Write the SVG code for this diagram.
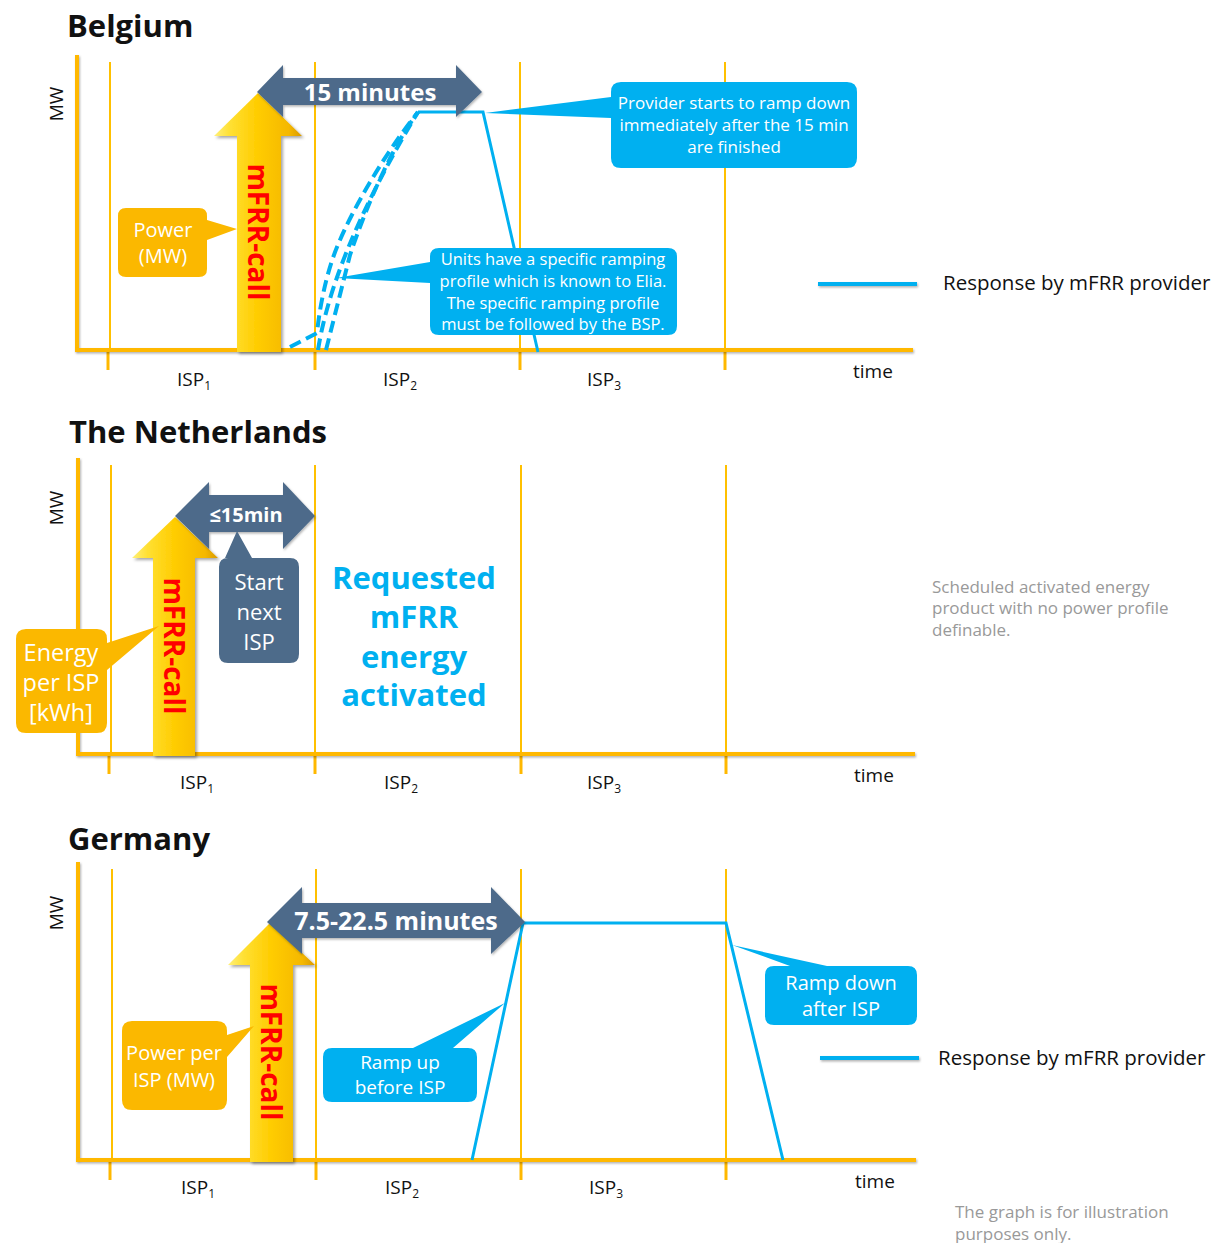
<svg xmlns="http://www.w3.org/2000/svg" width="1220" height="1243" viewBox="0 0 1220 1243">
<defs>
  <linearGradient id="yel" x1="0" y1="0" x2="1" y2="0">
    <stop offset="0" stop-color="#FFF07A"/>
    <stop offset="0.18" stop-color="#FFE033"/>
    <stop offset="0.5" stop-color="#FFCC00"/>
    <stop offset="0.85" stop-color="#F5B800"/>
    <stop offset="1" stop-color="#D99A00"/>
  </linearGradient>
  <filter id="sh" x="-20%" y="-20%" width="140%" height="140%">
    <feDropShadow dx="2" dy="2" stdDeviation="1.5" flood-color="#000" flood-opacity="0.35"/>
  </filter>
  <filter id="sh2" filterUnits="userSpaceOnUse" x="0" y="0" width="1220" height="1243">
    <feDropShadow dx="1" dy="1.5" stdDeviation="1" flood-color="#000" flood-opacity="0.3"/>
  </filter>
</defs>
<style>
  .axis{stroke:#FFB800;stroke-width:4;fill:none;filter:url(#sh2)}
  .grid{stroke:#FFC000;stroke-width:2;fill:none}
  .tick{stroke:#FFB800;stroke-width:3;fill:none}
  .resp{stroke:#00B0F0;stroke-width:3;fill:none;stroke-linejoin:miter}
  .dash{stroke:#00B0F0;stroke-width:4;fill:none;stroke-dasharray:12 6}
  .legend{stroke:#00B0F0;stroke-width:4;fill:none;filter:url(#sh2)}
  .yarrow{fill:url(#yel);filter:url(#sh)}
  .darrow{fill:#4D6B8A;filter:url(#sh2)}
  .blue{fill:#00B0F0}
  .orange{fill:#FBB800}
  .slate{fill:#4D6B8A}
  .title{font-family:"Open Sans","Noto Sans",sans-serif;font-weight:bold;font-size:31px;fill:#111}
  .lbl{font-family:"Open Sans","Noto Sans",sans-serif;font-size:19px;fill:#111}
  .leg{font-family:"Open Sans","Noto Sans",sans-serif;font-size:20.5px;fill:#111}
  .w{font-family:"Open Sans","Noto Sans",sans-serif;fill:#fff;text-anchor:middle}
  .wb{font-family:"Open Sans","Noto Sans",sans-serif;fill:#fff;font-weight:bold;text-anchor:middle}
  .call{font-family:"Open Sans","Noto Sans",sans-serif;font-weight:bold;font-size:28px;fill:#FF0000;text-anchor:middle}
  .gray{font-family:"Open Sans","Noto Sans",sans-serif;font-size:17px;fill:#999}
  .big{font-family:"Open Sans","Noto Sans",sans-serif;font-weight:bold;font-size:31px;fill:#00B0F0;text-anchor:middle}
</style>

<!-- ================= BELGIUM ================= -->
<g id="belgium-axes">
  <text class="title" x="67" y="37">Belgium</text>
  <line class="grid" x1="110" y1="62" x2="110" y2="350"/>
  <line class="grid" x1="315" y1="62" x2="315" y2="350"/>
  <line class="grid" x1="520" y1="62" x2="520" y2="350"/>
  <line class="grid" x1="725" y1="62" x2="725" y2="350"/>
  <line class="tick" x1="108" y1="350" x2="108" y2="370"/>
  <line class="tick" x1="315" y1="350" x2="315" y2="370"/>
  <line class="tick" x1="520" y1="350" x2="520" y2="370"/>
  <line class="tick" x1="725" y1="350" x2="725" y2="370"/>
  <line class="axis" x1="77" y1="55" x2="77" y2="350"/>
  <line class="axis" x1="75" y1="350" x2="913" y2="350"/>
  <text class="lbl" transform="translate(63,104) rotate(-90)" text-anchor="middle">MW</text>
  <text class="lbl" x="177" y="386">ISP<tspan font-size="12" dy="4">1</tspan></text>
  <text class="lbl" x="383" y="386">ISP<tspan font-size="12" dy="4">2</tspan></text>
  <text class="lbl" x="587" y="386">ISP<tspan font-size="12" dy="4">3</tspan></text>
  <text class="lbl" x="853" y="378">time</text>
</g>
<g id="belgium-response">
  <path class="dash" d="M290,347 L317,333 C321,295 330,262 340,240 C352,212 380,160 418,112"/>
  <path class="dash" d="M318,350 C326,300 350,225 418,112"/>
  <path class="dash" d="M326,350 L350,255 C365,210 390,150 418,112"/>
  <path class="resp" d="M418,112 L483,112 L538,352"/>
</g>
<g id="belgium-call">
  <polygon class="yarrow" points="237,352 237,136 214,136 258,93 302,136 281,136 281,352"/>
  <text class="call" transform="translate(258,232) rotate(90)" x="0" y="10">mFRR-call</text>
</g>
<g id="belgium-15min">
  <polygon class="darrow" points="257,92 283,65 283,78 456,78 456,65 482,92 456,117 456,105 283,105 283,117"/>
  <text class="wb" x="370" y="101" font-size="24">15 minutes</text>
</g>
<g id="belgium-power">
  <path class="orange" d="M126,208 H199 Q207,208 207,216 V220 L237,229 L207,240 V269 Q207,277 199,277 H126 Q118,277 118,269 V216 Q118,208 126,208 Z"/>
  <text class="w" x="163" y="237" font-size="20">Power</text>
  <text class="w" x="163" y="263" font-size="20">(MW)</text>
</g>
<g id="belgium-units">
  <path class="blue" d="M439,248 H668 Q677,248 677,257 V326 Q677,335 668,335 H439 Q430,335 430,326 V283 L336,278 L430,262 V257 Q430,248 439,248 Z"/>
  <text class="w" x="553" y="265" font-size="16.5">Units have a specific ramping</text>
  <text class="w" x="553" y="287" font-size="16.5">profile which is known to Elia.</text>
  <text class="w" x="553" y="309" font-size="16.5">The specific ramping profile</text>
  <text class="w" x="553" y="330" font-size="16.5">must be followed by the BSP.</text>
</g>
<g id="belgium-provider">
  <path class="blue" d="M621,82 H847 Q857,82 857,92 V158 Q857,168 847,168 H621 Q611,168 611,158 V118 L485,113 L611,97 V92 Q611,82 621,82 Z"/>
  <text class="w" x="734" y="109" font-size="17">Provider starts to ramp down</text>
  <text class="w" x="734" y="131" font-size="17">immediately after the 15 min</text>
  <text class="w" x="734" y="153" font-size="17">are finished</text>
</g>
<g id="belgium-legend">
  <line class="legend" x1="818" y1="284" x2="917" y2="284"/>
  <text class="leg" x="943" y="290">Response by mFRR provider</text>
</g>

<!-- ================= NETHERLANDS ================= -->
<g id="nl-axes">
  <text class="title" x="69" y="443">The Netherlands</text>
  <line class="grid" x1="111" y1="465" x2="111" y2="754"/>
  <line class="grid" x1="315" y1="465" x2="315" y2="754"/>
  <line class="grid" x1="521" y1="465" x2="521" y2="754"/>
  <line class="grid" x1="726" y1="465" x2="726" y2="754"/>
  <line class="tick" x1="109" y1="754" x2="109" y2="774"/>
  <line class="tick" x1="315" y1="754" x2="315" y2="774"/>
  <line class="tick" x1="521" y1="754" x2="521" y2="774"/>
  <line class="tick" x1="726" y1="754" x2="726" y2="774"/>
  <line class="axis" x1="78" y1="458" x2="78" y2="754"/>
  <line class="axis" x1="76" y1="754" x2="915" y2="754"/>
  <text class="lbl" transform="translate(63,508) rotate(-90)" text-anchor="middle">MW</text>
  <text class="lbl" x="180" y="789">ISP<tspan font-size="12" dy="4">1</tspan></text>
  <text class="lbl" x="384" y="789">ISP<tspan font-size="12" dy="4">2</tspan></text>
  <text class="lbl" x="587" y="789">ISP<tspan font-size="12" dy="4">3</tspan></text>
  <text class="lbl" x="854" y="782">time</text>
</g>
<g id="nl-call">
  <polygon class="yarrow" points="153,756 153,558 132,558 175,517 218,558 195,558 195,756"/>
  <text class="call" transform="translate(174,646) rotate(90)" x="0" y="10">mFRR-call</text>
</g>
<g id="nl-15min">
  <polygon class="darrow" points="175,516 209,482 209,495 283,495 283,482 315,516 283,549 283,532 209,532 209,549"/>
  <text class="wb" x="246" y="522" font-size="20">≤15min</text>
</g>
<g id="nl-start">
  <path class="slate" d="M228,558 H225 L237,531 L252,558 H290 Q299,558 299,567 V654 Q299,663 290,663 H228 Q219,663 219,654 V567 Q219,558 228,558 Z"/>
  <text class="w" x="259" y="590" font-size="22">Start</text>
  <text class="w" x="259" y="620" font-size="22">next</text>
  <text class="w" x="259" y="650" font-size="22">ISP</text>
</g>
<g id="nl-energy">
  <path class="orange" d="M26,629 H97 Q107,629 107,639 V643 L159,626 L107,670 V723 Q107,733 97,733 H26 Q16,733 16,723 V639 Q16,629 26,629 Z"/>
  <text class="w" x="61" y="661" font-size="23.5">Energy</text>
  <text class="w" x="61" y="691" font-size="23.5">per ISP</text>
  <text class="w" x="61" y="721" font-size="23.5">[kWh]</text>
</g>
<g id="nl-requested">
  <text class="big" x="414" y="589">Requested</text>
  <text class="big" x="414" y="628">mFRR</text>
  <text class="big" x="414" y="668">energy</text>
  <text class="big" x="414" y="706">activated</text>
</g>
<g id="nl-note">
  <text class="gray" x="932" y="593">Scheduled activated energy</text>
  <text class="gray" x="932" y="614">product with no power profile</text>
  <text class="gray" x="932" y="636">definable.</text>
</g>

<!-- ================= GERMANY ================= -->
<g id="de-axes">
  <text class="title" x="68" y="850">Germany</text>
  <line class="grid" x1="112" y1="869" x2="112" y2="1160"/>
  <line class="grid" x1="316" y1="869" x2="316" y2="1160"/>
  <line class="grid" x1="521" y1="869" x2="521" y2="1160"/>
  <line class="grid" x1="726" y1="869" x2="726" y2="1160"/>
  <line class="tick" x1="110" y1="1160" x2="110" y2="1180"/>
  <line class="tick" x1="316" y1="1160" x2="316" y2="1180"/>
  <line class="tick" x1="521" y1="1160" x2="521" y2="1180"/>
  <line class="tick" x1="726" y1="1160" x2="726" y2="1180"/>
  <line class="axis" x1="78" y1="862" x2="78" y2="1160"/>
  <line class="axis" x1="76" y1="1160" x2="916" y2="1160"/>
  <text class="lbl" transform="translate(63,913) rotate(-90)" text-anchor="middle">MW</text>
  <text class="lbl" x="181" y="1194">ISP<tspan font-size="12" dy="4">1</tspan></text>
  <text class="lbl" x="385" y="1194">ISP<tspan font-size="12" dy="4">2</tspan></text>
  <text class="lbl" x="589" y="1194">ISP<tspan font-size="12" dy="4">3</tspan></text>
  <text class="lbl" x="855" y="1188">time</text>
</g>
<g id="de-response">
  <path class="resp" d="M472,1160 L523,923 L726,923 L783,1160"/>
</g>
<g id="de-call">
  <polygon class="yarrow" points="250,1162 250,965 228,965 270,923 315,965 293,965 293,1162"/>
  <text class="call" transform="translate(271,1052) rotate(90)" x="0" y="10">mFRR-call</text>
</g>
<g id="de-minutes">
  <polygon class="darrow" points="267,922 302,887 302,903 491,903 491,887 525,922 491,954 491,938 302,938 302,954"/>
  <text class="wb" x="396" y="930" font-size="25">7.5-22.5 minutes</text>
</g>
<g id="de-power">
  <path class="orange" d="M132,1021 H217 Q227,1021 227,1031 V1035 L254,1026 L227,1057 V1100 Q227,1110 217,1110 H132 Q122,1110 122,1100 V1031 Q122,1021 132,1021 Z"/>
  <text class="w" x="174" y="1060" font-size="20">Power per</text>
  <text class="w" x="174" y="1087" font-size="20">ISP (MW)</text>
</g>
<g id="de-rampup">
  <path class="blue" d="M332,1048 H413 L505,1003 L453,1048 H468 Q477,1048 477,1057 V1093 Q477,1102 468,1102 H332 Q323,1102 323,1093 V1057 Q323,1048 332,1048 Z"/>
  <text class="w" x="400" y="1069" font-size="19">Ramp up</text>
  <text class="w" x="400" y="1094" font-size="19">before ISP</text>
</g>
<g id="de-rampdown">
  <path class="blue" d="M774,966 H790 L732,945 L827,966 H908 Q917,966 917,975 V1016 Q917,1025 908,1025 H774 Q765,1025 765,1016 V975 Q765,966 774,966 Z"/>
  <text class="w" x="841" y="990" font-size="20">Ramp down</text>
  <text class="w" x="841" y="1016" font-size="20">after ISP</text>
</g>
<g id="de-legend">
  <line class="legend" x1="820" y1="1058" x2="919" y2="1058"/>
  <text class="leg" x="938" y="1065">Response by mFRR provider</text>
</g>
<g id="footnote">
  <text class="gray" x="955" y="1218">The graph is for illustration</text>
  <text class="gray" x="955" y="1240">purposes only.</text>
</g>
</svg>
